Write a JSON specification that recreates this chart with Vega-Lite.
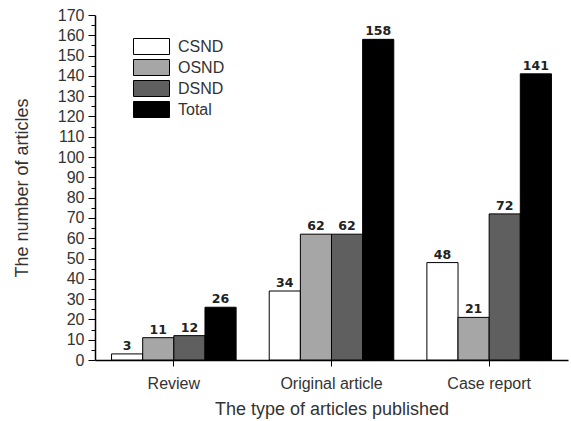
{
  "$schema": "https://vega.github.io/schema/vega-lite/v6.json",
  "width": 473,
  "height": 345,
  "autosize": "none",
  "padding": {"left": 95, "top": 15, "right": 3, "bottom": 61},
  "background": "white",
  "config": {"view": {"stroke": null}, "font": "Liberation Sans"},
  "data": {"values": [
    {"type": "Review", "series": "CSND", "value": 3},
    {"type": "Review", "series": "OSND", "value": 11},
    {"type": "Review", "series": "DSND", "value": 12},
    {"type": "Review", "series": "Total", "value": 26},
    {"type": "Original article", "series": "CSND", "value": 34},
    {"type": "Original article", "series": "OSND", "value": 62},
    {"type": "Original article", "series": "DSND", "value": 62},
    {"type": "Original article", "series": "Total", "value": 158},
    {"type": "Case report", "series": "CSND", "value": 48},
    {"type": "Case report", "series": "OSND", "value": 21},
    {"type": "Case report", "series": "DSND", "value": 72},
    {"type": "Case report", "series": "Total", "value": 141}
  ]},
  "encoding": {
    "x": {"field": "type", "type": "nominal", "sort": ["Review", "Original article", "Case report"],
      "scale": {"paddingInner": 0.21, "paddingOuter": 0.105},
      "axis": {"title": "The type of articles published", "labelAngle": 0, "labelFontSize": 16, "labelColor": "#333", "titleFontSize": 18, "titleColor": "#333", "titleFontWeight": "normal", "labelPadding": 9, "titlePadding": 9, "tickSize": 6, "tickColor": "black", "domainColor": "black", "domainWidth": 1.5}},
    "xOffset": {"field": "series", "type": "nominal", "sort": ["CSND", "OSND", "DSND", "Total"], "scale": {"paddingInner": 0, "paddingOuter": 0}}
  },
  "layer": [
    {
      "mark": {"type": "bar", "stroke": "black", "strokeWidth": 1},
      "encoding": {
        "y": {"field": "value", "type": "quantitative", "scale": {"domain": [0, 170], "nice": false},
          "axis": {"title": "The number of articles", "values": [0,10,20,30,40,50,60,70,80,90,100,110,120,130,140,150,160,170], "grid": false, "labelFontSize": 16, "labelColor": "#333", "titleFontSize": 18, "titleColor": "#333", "titleFontWeight": "normal", "labelPadding": 4, "titlePadding": 26, "tickSize": 7, "tickColor": "black", "domainColor": "black", "domainWidth": 1.5}},
        "fill": {"field": "series", "type": "nominal",
          "scale": {"domain": ["CSND", "OSND", "DSND", "Total"], "range": ["white", "#a6a6a6", "#5f5f5f", "black"]},
          "legend": {"title": null, "orient": "none", "legendX": 48, "legendY": 23, "padding": 0,
            "symbolType": "M-2.25,-1H2.25V1H-2.25Z", "symbolSize": 256, "symbolStrokeColor": "black", "symbolStrokeWidth": 1,
            "labelFontSize": 16, "labelColor": "#333", "labelOffset": 18, "rowPadding": 0}}
      }
    },
    {
      "mark": {"type": "text", "dy": -8, "font": "DejaVu Sans", "fontWeight": "bold", "fontSize": 12.5, "color": "#222"},
      "encoding": {
        "y": {"field": "value", "type": "quantitative", "scale": {"domain": [0, 170], "nice": false},
          "axis": {"orient": "right", "title": null, "values": [5,15,25,35,45,55,65,75,85,95,105,115,125,135,145,155,165], "labels": false, "grid": false, "domain": false, "tickSize": -4, "tickColor": "black", "offset": -473}},
        "text": {"field": "value", "type": "quantitative"}}
    }
  ],
  "resolve": {"axis": {"y": "independent"}}
}
